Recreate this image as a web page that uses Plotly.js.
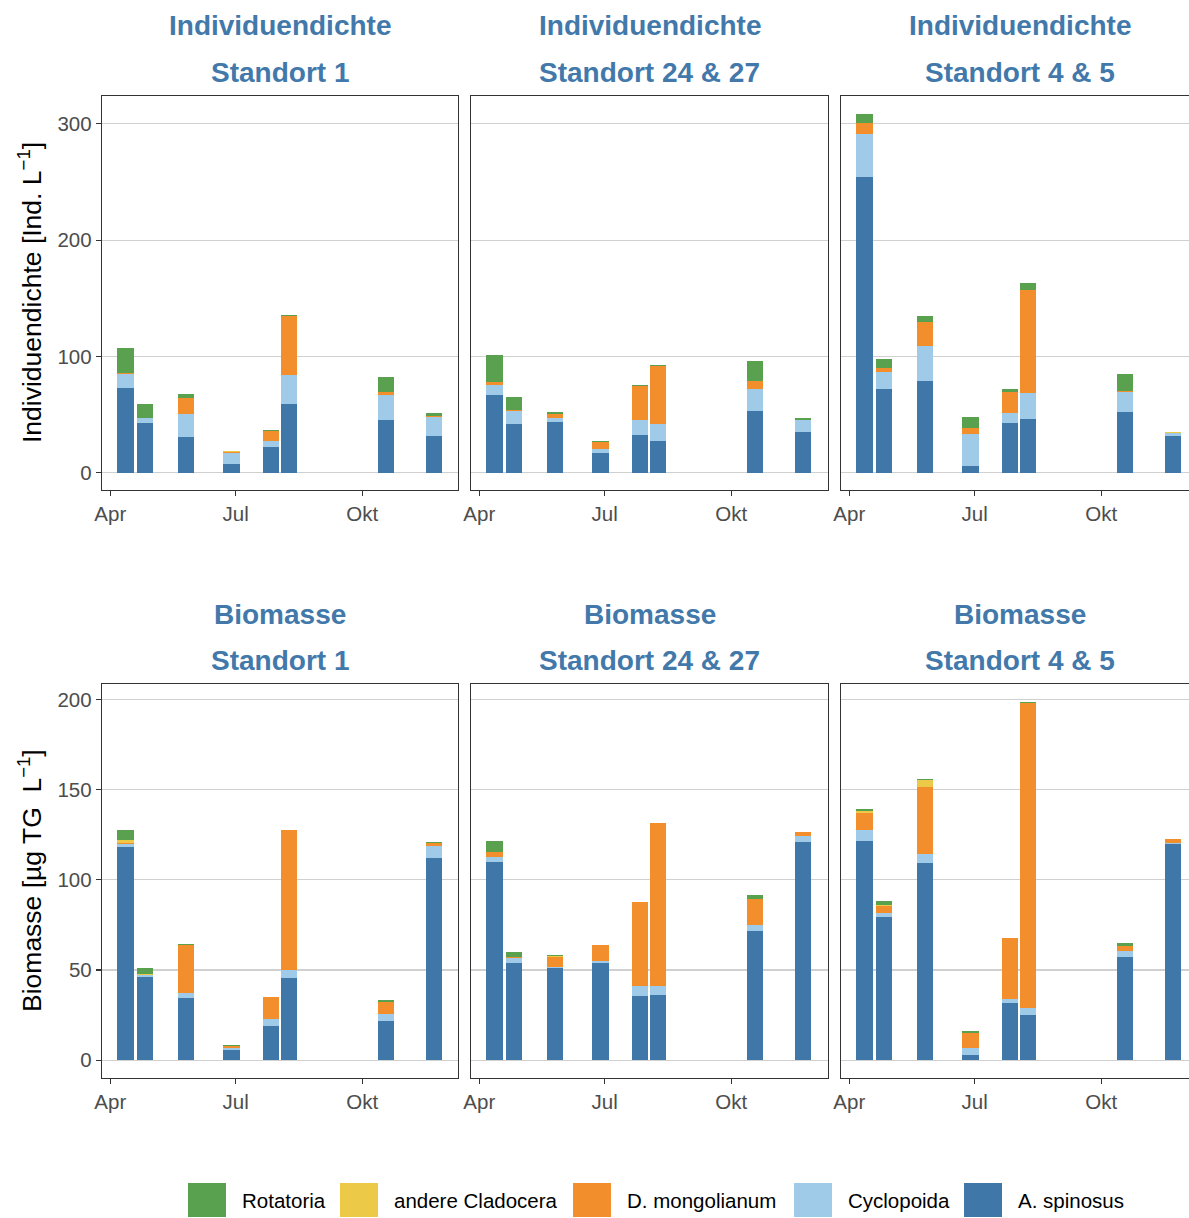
<!DOCTYPE html>
<html><head><meta charset="utf-8">
<script src="https://cdn.plot.ly/plotly-3.0.1.min.js"></script>
<style>html,body{margin:0;padding:0;background:#fff}#chart{width:1189px;height:1218px}</style>
</head><body><div id="chart"></div>
<script>
// ---------- data ----------
const dates = ["2019-04-12","2019-04-26","2019-05-26","2019-06-28","2019-07-27","2019-08-09","2019-10-18","2019-11-22"];
const species = ["A. spinosus","Cyclopoida","D. mongolianum","andere Cladocera","Rotatoria"];
const legendOrder = ["Rotatoria","andere Cladocera","D. mongolianum","Cyclopoida","A. spinosus"];
const metrics = ["Individuendichte","Biomasse"];
const sites = ["Standort 1","Standort 24 & 27","Standort 4 & 5"];
const monthTicks = ["2019-04-01","2019-07-01","2019-10-01"];
const monthLabels = ["Apr","Jul","Okt"];
const yTicksInd = [0,100,200,300];
const yTicksBio = [0,50,100,150,200];
const yTitles = ["Individuendichte [Ind. L<sup>−1</sup>]","Biomasse [µg TG  L<sup>−1</sup>]"];

// rows: A. spinosus, Cyclopoida, D. mongolianum, andere Cladocera, Rotatoria
const ind_st1 = [
  [73, 42.3, 31, 7.1, 22, 58.9, 45.1, 31.4],
  [11.4, 4.3, 19, 10, 4.9, 24.8, 22, 16.6],
  [1.4, 0, 14, 0.8, 8.8, 50.6, 2.3, 0.5],
  [0, 0, 0, 0.4, 0, 0, 0, 0.4],
  [21, 12.3, 4, 0.3, 0.6, 1.4, 13.2, 2]
];
const ind_st24 = [
  [67.1, 42, 43.4, 16.9, 32, 26.9, 53.4, 35.1],
  [8.6, 10.9, 3.7, 3.7, 13.1, 15.1, 18.9, 10],
  [2.6, 0.6, 3.5, 5.7, 29.5, 49.4, 6.6, 0.5],
  [0, 0.5, 0, 0, 0, 0, 0, 0],
  [22.8, 10.6, 1.7, 0.8, 0.5, 1.2, 17.4, 1]
];
const ind_st45 = [
  [254, 72.3, 78.9, 6, 42.3, 45.7, 51.7, 31.7],
  [37.7, 14.3, 29.7, 26.9, 9.1, 22.9, 17.4, 2],
  [9.2, 3.7, 21.1, 5.4, 18.3, 88.5, 1.5, 0.6],
  [0, 0, 0, 0, 0, 0, 0, 0.2],
  [7.4, 7.4, 4.6, 9.1, 2.6, 6, 14.3, 0.5]
];
const bio_st1 = [
  [118, 46.1, 34.7, 5.5, 18.8, 45.8, 21.9, 112.1],
  [1.8, 1.1, 2.8, 1.3, 4.2, 4, 3.5, 6.8],
  [0.7, 0, 26.3, 1.3, 12.3, 77.6, 6.6, 1.5],
  [1.8, 0.6, 0, 0, 0, 0, 0, 0],
  [5.2, 3.3, 0.4, 0.2, 0, 0, 1.1, 0.5]
];
const bio_st24 = [
  [110.1, 53.7, 50.9, 54, 35.7, 36, 71.5, 121.1],
  [2.8, 2.9, 0.6, 1, 5.7, 5.4, 3.5, 3.2],
  [2.5, 0.8, 5.9, 8.6, 46.5, 89.9, 14.5, 2.2],
  [0, 0, 0.6, 0, 0, 0, 0, 0],
  [6.1, 2.7, 0.5, 0, 0, 0.3, 2, 0]
];
const bio_st45 = [
  [121.5, 79.4, 109.4, 2.6, 31.6, 25.2, 57.2, 119.7],
  [6.1, 2, 4.9, 4.2, 2.4, 3.8, 3.1, 0.7],
  [9.5, 4.3, 37.2, 8.1, 33.6, 169, 2.9, 2],
  [0.8, 0.5, 4, 0, 0, 0, 0, 0],
  [1.6, 2, 0.6, 1.3, 0.4, 0.7, 1.7, 0]
];

// ---------- style ----------
const colors = {"A. spinosus":"#3f78a8","Cyclopoida":"#a0cbe8","D. mongolianum":"#f28e2b","andere Cladocera":"#edc948","Rotatoria":"#59a14f"};
const FONT = "Liberation Sans, Arial, sans-serif";
const W = 1189, H = 1218;
const colX = [[102,458],[471,828],[841,1189]];
const colFullRight = [458,828,1198];
const rowY = [[96,490],[684,1078]];
const yRanges = [[-15,324],[-9.9,208.6]];
const px = x => x / W, py = y => 1 - y / H;
const DAY = 86400000;
const pxPerDay = 1.377;
const apr1 = Date.UTC(2019,3,1);
const fmt = ms => new Date(ms).toISOString().replace('T',' ').replace('Z','');

const panels = [[ind_st1, ind_st24, ind_st45],[bio_st1, bio_st24, bio_st45]];
const traces = [];
const layout = {
  width: W, height: H,
  margin: {l:0,r:0,t:0,b:0},
  paper_bgcolor: "#fff", plot_bgcolor: "#fff",
  barmode: "stack", bargap: 0,
  showlegend: false,
  font: {family: FONT, color: "#1a1a1a"},
  annotations: [], shapes: []
};

let k = 0;
for (let r = 0; r < 2; r++) {
  for (let c = 0; c < 3; c++) {
    k++;
    const xa = "x" + (k === 1 ? "" : k), ya = "y" + (k === 1 ? "" : k);
    const data = panels[r][c];
    species.forEach((s, i) => {
      traces.push({
        type: "bar", x: dates, y: data[i], name: s,
        xaxis: xa, yaxis: ya,
        width: 11.7 * DAY,
        marker: {color: colors[s], line: {width: 0}},
        hovertemplate: s + ": %{y}<extra></extra>"
      });
    });
    const left = colX[c][0], right = colX[c][1];
    const start = apr1 - (8.3 / pxPerDay) * DAY;
    const end = start + ((right - left) / pxPerDay) * DAY;
    layout["xaxis" + (k === 1 ? "" : k)] = {
      domain: [px(left), px(right)], anchor: ya,
      type: "date", range: [fmt(start), fmt(end)],
      tickvals: monthTicks, ticktext: monthLabels,
      ticks: "outside", ticklen: 5, tickwidth: 1.2, tickcolor: "#333",
      tickfont: {family: FONT, size: 20.5, color: "#4d4d4d"},
      showgrid: false, zeroline: false,
      showline: true, mirror: true, linecolor: "#333", linewidth: 1.2,
      fixedrange: true
    };
    layout["yaxis" + (k === 1 ? "" : k)] = {
      domain: [py(rowY[r][1]), py(rowY[r][0])], anchor: xa,
      range: yRanges[r],
      tickvals: r === 0 ? yTicksInd : yTicksBio,
      ticks: c === 0 ? "outside" : "", ticklen: 5, tickwidth: 1.2, tickcolor: "#333",
      showticklabels: c === 0,
      tickfont: {family: FONT, size: 20.5, color: "#4d4d4d"},
      showgrid: true, gridcolor: "#d0d0d0", gridwidth: 1.1, zeroline: false,
      showline: true, mirror: c < 2, linecolor: "#333", linewidth: 1.2,
      fixedrange: true
    };
    const cx = (left + colFullRight[c]) / 2;
    const top = rowY[r][0];
    layout.annotations.push({
      xref: "paper", yref: "paper", x: px(cx), y: py(top - 70), xanchor: "center", yanchor: "middle",
      text: "<b>" + metrics[r] + "</b>", showarrow: false,
      font: {family: FONT, size: 28, color: "#4279aa"}
    });
    layout.annotations.push({
      xref: "paper", yref: "paper", x: px(cx), y: py(top - 23), xanchor: "center", yanchor: "middle",
      text: "<b>" + sites[c] + "</b>", showarrow: false,
      font: {family: FONT, size: 28, color: "#4279aa"}
    });
  }
  layout.annotations.push({
    xref: "paper", yref: "paper", x: px(30), y: py((rowY[r][0] + rowY[r][1]) / 2),
    xanchor: "center", yanchor: "middle", textangle: -90,
    text: yTitles[r], showarrow: false,
    font: {family: FONT, size: 26.5, color: "#000"}
  });
}

// legend (drawn as shapes + text)
const legendKeyX = [188, 340, 573, 794, 964];
const keyW = 38, keyTop = 1183, keyBot = 1217;
legendOrder.forEach((s, i) => {
  const x0 = legendKeyX[i];
  layout.shapes.push({
    type: "rect", xref: "paper", yref: "paper",
    x0: px(x0), x1: px(x0 + keyW), y0: py(keyBot), y1: py(keyTop),
    fillcolor: colors[s], line: {width: 0}
  });
  layout.annotations.push({
    xref: "paper", yref: "paper", x: px(x0 + keyW + 14), y: py((keyTop + keyBot) / 2),
    xanchor: "left", yanchor: "middle", text: s, showarrow: false,
    font: {family: FONT, size: 20.5, color: "#000"}
  });
});

Plotly.newPlot("chart", traces, layout, {staticPlot: true, displayModeBar: false});
</script>
</body></html>
